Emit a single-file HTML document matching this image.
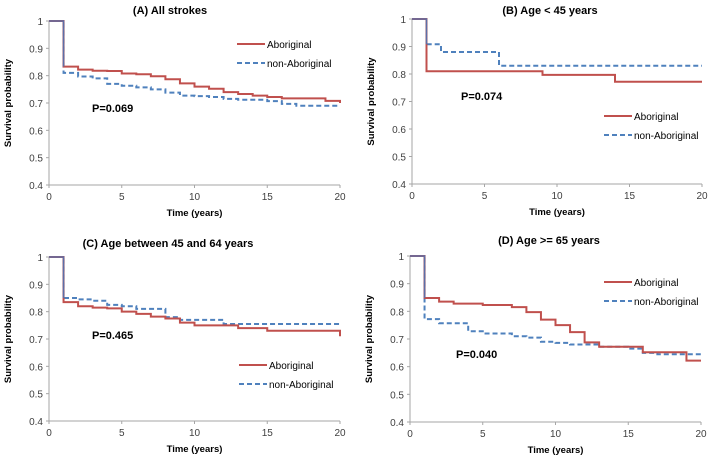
<!DOCTYPE html>
<html><head><meta charset="utf-8"><style>
html,body{margin:0;padding:0;background:#fff}
svg{display:block;font-family:"Liberation Sans",sans-serif}
</style></head><body>
<svg id="fig" width="708" height="455" viewBox="0 0 708 455" xmlns="http://www.w3.org/2000/svg"></svg>
<script>
const xTicks=[0,5,10,15,20];
const yTicks=[0.4,0.5,0.6,0.7,0.8,0.9,1];
const times=[0,1,2,3,4,5,6,7,8,9,10,11,12,13,14,15,16,17,18,19,20];
const aAbor=[1,0.833,0.822,0.818,0.817,0.808,0.805,0.798,0.787,0.772,0.760,0.752,0.740,0.733,0.727,0.722,0.717,0.717,0.717,0.708,0.700];
const aNon=[1,0.810,0.797,0.790,0.770,0.763,0.757,0.750,0.738,0.727,0.725,0.722,0.715,0.712,0.712,0.707,0.697,0.690,0.690,0.690,0.690];
const bAbor=[1,0.810,0.810,0.810,0.810,0.810,0.810,0.810,0.810,0.797,0.797,0.797,0.797,0.797,0.772,0.772,0.772,0.772,0.772,0.772,0.772];
const bNon=[1,0.908,0.880,0.880,0.880,0.880,0.830,0.830,0.830,0.830,0.830,0.830,0.830,0.830,0.830,0.830,0.830,0.830,0.830,0.830,0.830];
const cAbor=[1,0.835,0.820,0.815,0.812,0.800,0.792,0.782,0.775,0.760,0.750,0.750,0.750,0.740,0.740,0.730,0.730,0.730,0.730,0.730,0.710];
const cNon=[1,0.850,0.845,0.840,0.825,0.820,0.810,0.810,0.780,0.770,0.770,0.770,0.755,0.755,0.755,0.755,0.755,0.755,0.755,0.755,0.755];
const dAbor=[1,0.848,0.835,0.828,0.828,0.823,0.823,0.815,0.797,0.770,0.750,0.725,0.688,0.672,0.672,0.672,0.652,0.652,0.652,0.622,0.622];
const dNon=[1,0.772,0.757,0.757,0.728,0.720,0.720,0.710,0.705,0.690,0.686,0.680,0.680,0.672,0.672,0.665,0.650,0.645,0.645,0.645,0.645];

const panels=[
 {id:'a',title:'(A) All strokes',x0:49,x1:340,y1:21,y0:185,ab:aAbor,non:aNon,p:'P=0.069',px:92,py:112,lx:237,ly:44,tx:170,ty:14},
 {id:'b',title:'(B) Age < 45 years',x0:412,x1:702,y1:19,y0:184,ab:bAbor,non:bNon,p:'P=0.074',px:461,py:100,lx:604,ly:116,tx:550,ty:14},
 {id:'c',title:'(C) Age between 45 and 64 years',x0:49,x1:340,y1:257,y0:421,ab:cAbor,non:cNon,p:'P=0.465',px:92,py:339,lx:239,ly:365,tx:168,ty:247},
 {id:'d',title:'(D) Age >= 65 years',x0:410,x1:701,y1:256,y0:422,ab:dAbor,non:dNon,p:'P=0.040',px:456,py:358,lx:604,ly:282,tx:549,ty:244}
];
const NS='http://www.w3.org/2000/svg';
const svg=document.getElementById('fig');
function mk(tag,attrs,parent,text){const e=document.createElementNS(NS,tag);for(const k in attrs)e.setAttribute(k,attrs[k]);if(text!==undefined)e.textContent=text;parent.appendChild(e);return e;}
function stepPath(vals,sx,sy){let d='M'+sx(times[0])+','+sy(vals[0]);for(let i=1;i<times.length;i++){d+=' H'+sx(times[i])+' V'+sy(vals[i]);}return d;}
panels.forEach(P=>{
 const g=mk('g',{},svg);
 
 
 const sx=t=>P.x0+(t/20)*(P.x1-P.x0);
 const sy=v=>P.y0-(v-0.4)/0.6*(P.y0-P.y1);
 const tt=mk('text',{x:P.tx,y:P.ty,'text-anchor':'middle','font-size':11,'font-weight':'bold',fill:'#000'},g,P.title);
 
 
 const ax=mk('path',{d:'M'+P.x0+','+P.y1+' V'+P.y0+' H'+P.x1,stroke:'#a6a6a6',fill:'none','stroke-width':1},g);
 
 
 yTicks.forEach(v=>{
  mk('line',{x1:P.x0-3,x2:P.x0,y1:sy(v),y2:sy(v),stroke:'#a6a6a6'},g);
  const t=mk('text',{x:P.x0-6,y:sy(v)+4,'text-anchor':'end','font-size':10,fill:'#404040'},g,String(v));
  
  
 });
 xTicks.forEach(v=>{
  mk('line',{x1:sx(v),x2:sx(v),y1:P.y0,y2:P.y0+3,stroke:'#a6a6a6'},g);
  const t=mk('text',{x:sx(v),y:P.y0+15,'text-anchor':'middle','font-size':10,fill:'#404040'},g,String(v));
  
  
 });
 const xl=mk('text',{x:(P.x0+P.x1)/2,y:P.y0+31,'text-anchor':'middle','font-size':9.5,'font-weight':'bold',fill:'#000'},g,'Time (years)');
 
 
 const ycx=P.x0-38, ycy=(P.y0+P.y1)/2;
 const yl=mk('text',{x:ycx,y:ycy,'text-anchor':'middle','font-size':9.5,'font-weight':'bold',fill:'#000',transform:'rotate(-90 '+ycx+' '+ycy+')'},g,'Survival probability');
 
 
 const n=mk('path',{d:stepPath(P.non,sx,sy),stroke:'#4f81bd',fill:'none','stroke-width':2,'stroke-dasharray':'5,3'},g);
 
 
 const a=mk('path',{d:stepPath(P.ab,sx,sy),stroke:'#c0504d',fill:'none','stroke-width':2},g);
 
 
 mk('path',{d:'M'+sx(0)+','+sy(1)+' H'+sx(1)+' V'+sy(Math.max(P.ab[1],P.non[1])),stroke:'#5b6fa8',fill:'none','stroke-width':1.5},g);
 const pv=mk('text',{x:P.px,y:P.py,'font-size':11,'font-weight':'bold',fill:'#000'},g,P.p);
 
 
 const l1=mk('line',{x1:P.lx,x2:P.lx+28,y1:P.ly,y2:P.ly,stroke:'#c0504d','stroke-width':2},g);
 
 
 const t1=mk('text',{x:P.lx+30,y:P.ly+4,'font-size':10,fill:'#000'},g,'Aboriginal');
 
 
 const l2=mk('line',{x1:P.lx,x2:P.lx+28,y1:P.ly+19,y2:P.ly+19,stroke:'#4f81bd','stroke-width':2,'stroke-dasharray':'5,3'},g);
 
 
 const t2=mk('text',{x:P.lx+30,y:P.ly+23,'font-size':10,fill:'#000'},g,'non-Aboriginal');
 
 
});
</script>
</body></html>
